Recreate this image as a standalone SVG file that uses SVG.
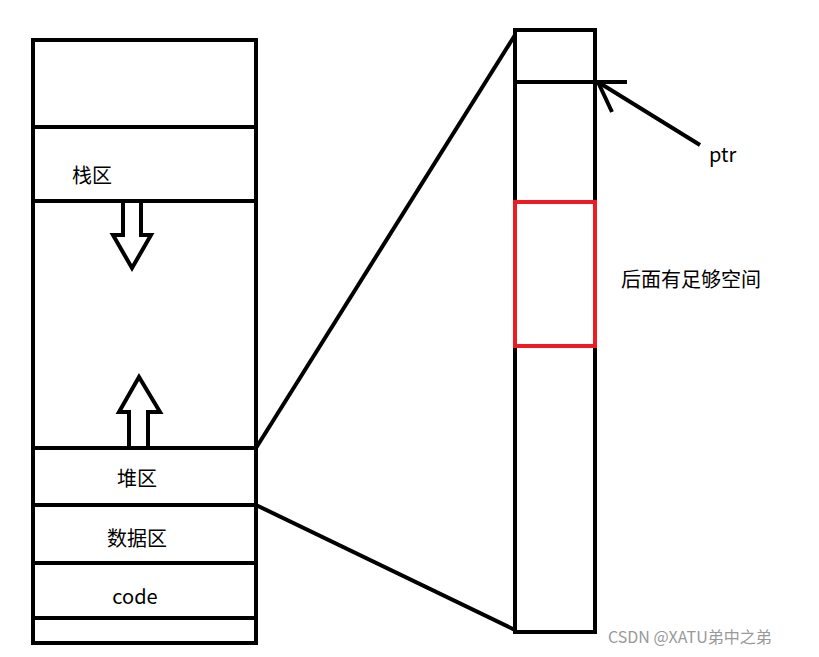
<svg xmlns="http://www.w3.org/2000/svg" width="819" height="657" viewBox="0 0 819 657">
<style>
.s{fill:none;stroke:#000;stroke-width:4}
.t{font-family:"Microsoft YaHei","Noto Sans CJK SC",sans-serif;font-size:20px;fill:#000}
</style>
<rect width="819" height="657" fill="#fff"/>
<g id="memory">
<rect class="s" x="33" y="40" width="223" height="603"/>
<line class="s" x1="33" y1="127" x2="256" y2="127"/>
<line class="s" x1="33" y1="201" x2="256" y2="201"/>
<line class="s" x1="33" y1="448" x2="256" y2="448"/>
<line class="s" x1="33" y1="505" x2="256" y2="505"/>
<line class="s" x1="33" y1="563" x2="256" y2="563"/>
<line class="s" x1="33" y1="618" x2="256" y2="618"/>
<polygon class="s" points="123,201 123,235 113,235 132,268 151,235 141,235 141,201"/>
<polygon class="s" points="129,448 129,412 119,412 139,377 160,412 148,412 148,448"/>
<text class="t" x="72" y="183">栈区</text>
<text class="t" x="137" y="486" text-anchor="middle">堆区</text>
<text class="t" x="137" y="546" text-anchor="middle">数据区</text>
<text class="t" x="135" y="604" text-anchor="middle">code</text>
</g>
<g id="heap">
<rect class="s" x="515" y="30" width="80" height="602"/>
<line class="s" x1="515" y1="82" x2="595" y2="82"/>
<rect x="515" y="202" width="80" height="144" fill="none" stroke="#ed1c24" stroke-width="4"/>
<text class="t" x="621" y="287">后面有足够空间</text>
</g>
<g id="connectors">
<line class="s" x1="256" y1="448" x2="515" y2="35"/>
<line class="s" x1="256" y1="505" x2="515" y2="630"/>
<polyline class="s" points="700,145 598,82"/>
<polyline class="s" points="627,82 598,82 612,112"/>
</g>
<text class="t" x="709" y="162">ptr</text>
<text x="608" y="643" style="font-family:'Noto Sans CJK SC',sans-serif;font-size:16px;fill:#999">CSDN @XATU弟中之弟</text>
</svg>
